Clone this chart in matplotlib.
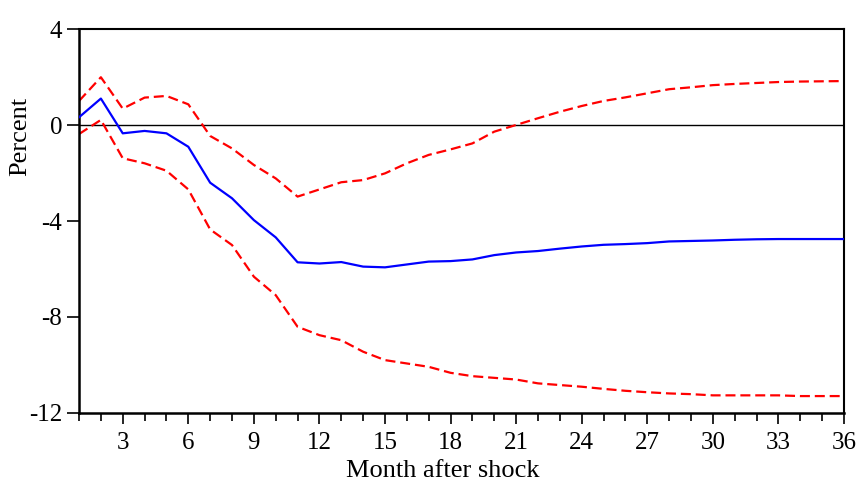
import matplotlib
matplotlib.use("Agg")
import matplotlib.pyplot as plt
from matplotlib.ticker import MultipleLocator

plt.rcParams['font.family'] = ['Liberation Serif', 'DejaVu Serif']
plt.rcParams['axes.unicode_minus'] = False

# months after the shock, 1..36
MONTHS = list(range(1, 37))

# point estimate of the response (percent)
RESPONSE = [0.33, 1.11, -0.34, -0.24, -0.34, -0.90, -2.40, -3.05, -3.96, -4.68,
            -5.72, -5.77, -5.71, -5.90, -5.93, -5.81, -5.69, -5.67, -5.60, -5.42,
            -5.31, -5.25, -5.15, -5.06, -4.99, -4.96, -4.92, -4.85, -4.83, -4.81,
            -4.78, -4.76, -4.75, -4.75, -4.75, -4.75]

# upper confidence band
UPPER = [1.01, 2.00, 0.69, 1.15, 1.22, 0.87, -0.45, -0.97, -1.66, -2.22,
         -2.98, -2.68, -2.38, -2.29, -2.01, -1.59, -1.24, -1.01, -0.76, -0.27,
         0.01, 0.29, 0.56, 0.80, 1.01, 1.16, 1.33, 1.50, 1.58, 1.67,
         1.72, 1.76, 1.80, 1.82, 1.83, 1.84]

# lower confidence band
LOWER = [-0.37, 0.22, -1.38, -1.59, -1.90, -2.68, -4.35, -5.00, -6.32, -7.09,
         -8.41, -8.76, -8.97, -9.45, -9.80, -9.94, -10.08, -10.33, -10.47, -10.54,
         -10.61, -10.77, -10.84, -10.91, -11.00, -11.08, -11.14, -11.19, -11.22, -11.27,
         -11.27, -11.27, -11.27, -11.30, -11.30, -11.30]

X_TICKS = [3, 6, 9, 12, 15, 18, 21, 24, 27, 30, 33, 36]
Y_TICKS = [4, 0, -4, -8, -12]

fig = plt.figure(figsize=(8.59, 4.84), dpi=100)
ax = fig.add_axes([0.092, 0.147, 0.8905, 0.7925])

# zero reference line
ax.axhline(0, color="black", linewidth=1.0, zorder=1)

ax.plot(MONTHS, UPPER, color="red", linewidth=1.6, dashes=(4.5, 2.2), zorder=2)
ax.plot(MONTHS, LOWER, color="red", linewidth=1.6, dashes=(4.5, 2.2), zorder=2)
ax.plot(MONTHS, RESPONSE, color="blue", linewidth=1.6, zorder=3)

ax.set_xlim(1, 36)
ax.set_ylim(-12, 4)
ax.set_xticks(X_TICKS)
ax.xaxis.set_minor_locator(MultipleLocator(1))
ax.set_yticks(Y_TICKS)

for side in ["left", "bottom"]:
    ax.spines[side].set_linewidth(1.8)
for side in ["top", "right"]:
    ax.spines[side].set_linewidth(1.5)

ax.tick_params(axis="y", which="major", direction="out", length=9, width=1.2,
               pad=3, labelsize=18)
ax.tick_params(axis="x", which="major", direction="out", length=8, width=1.2,
               pad=6, labelsize=18)
ax.tick_params(axis="x", which="minor", direction="out", length=6, width=1.2)

ax.set_xlabel("Month after shock", fontsize=19)
ax.set_ylabel("Percent", fontsize=19)
ax.xaxis.set_label_coords(0.476, -0.122)
ax.yaxis.set_label_coords(-0.062, 0.72)

fig.savefig("out.png", dpi=100)
